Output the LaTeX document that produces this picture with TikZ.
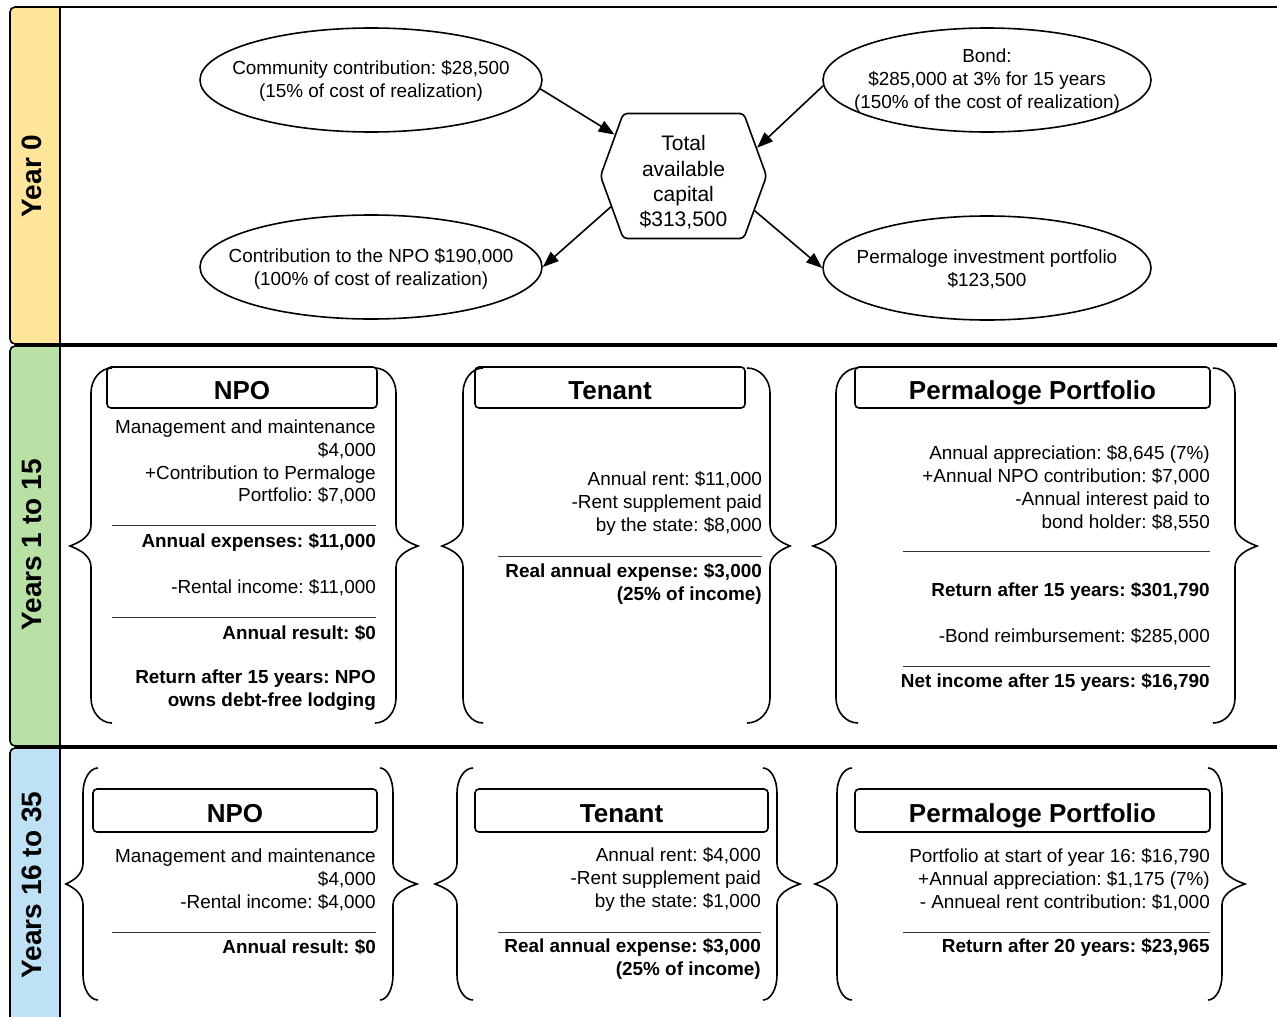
\documentclass[tikz,border=0pt]{standalone}
\usepackage{fontspec}
\setmainfont{Liberation Sans}
\usetikzlibrary{arrows.meta,shapes.geometric,shapes.symbols}
\definecolor{laneyellow}{HTML}{FFE599}
\definecolor{lanegreen}{HTML}{B9E0A5}
\definecolor{laneblue}{HTML}{BEE1F5}
\frenchspacing
\newcommand{\dgBody}{\fontsize{18.9}{22.9}\selectfont}
\newcommand{\dgHead}{\fontsize{26}{30}\selectfont\bfseries}
\newcommand{\dgLane}{\fontsize{28}{32}\selectfont\bfseries}
\newcommand{\dgHex}{\fontsize{21}{25.3}\selectfont}
% xe, xv, xt, ytop, ybot, ym
\newcommand{\dgBrace}[6]{%
  \draw[bracestyle] (#1,#4) .. controls ({#1+0.552*(#2-#1)},#4) and (#2,{#4+25-0.552*25}) .. (#2,{#4+25})
    -- (#2,{#6-21})
    .. controls (#2,{#6-10}) and ({#3+0.5*(#2-#3)},{#6-4}) .. (#3,#6)
    .. controls ({#3+0.5*(#2-#3)},{#6+4}) and (#2,{#6+10}) .. (#2,{#6+21})
    -- (#2,{#5-25})
    .. controls (#2,{#5-25+0.552*25}) and ({#1+0.552*(#2-#1)},#5) .. (#1,#5);}
\tikzset{
  lanebox/.style={draw=black, line width=1.6pt, rounded corners=5pt},
  bracestyle/.style={draw=black, line width=1.6pt},
  ell/.style={draw=black, line width=1.6pt, ellipse, inner sep=0pt, minimum width=342pt, minimum height=104pt},
  ellr/.style={ell, minimum width=328pt},
  etxt/.style={font=\dgBody, align=center, inner sep=0pt},
  txt/.style={font=\dgBody, align=right, anchor=east, inner sep=0pt, yshift=-2.5pt},
  btxt/.style={txt, font=\dgBody\bfseries},
  hdr/.style={draw=black, line width=1.6pt, rounded corners=4pt, font=\dgHead, inner sep=0pt, text height=23.6pt, text depth=0pt},
  sepline/.style={draw=black!80, line width=1pt},
  arr/.style={draw=black, line width=1.6pt, -{Triangle[length=16pt,width=12pt]}},
  lanelbl/.style={font=\dgLane, rotate=90, inner sep=0pt}
}
\begin{document}
\begin{tikzpicture}[x=1pt,y=-1pt]
\useasboundingbox (0,0) rectangle (1277,1017);
\clip (0,0) rectangle (1277,1017);
% lanes
\fill[laneyellow, rounded corners=5pt] (10,7) rectangle (60,344);
\fill[laneyellow] (35,7) rectangle (60,344);
\fill[lanegreen, rounded corners=5pt] (10,346) rectangle (60,746);
\fill[lanegreen] (35,346) rectangle (60,746);
\fill[laneblue, rounded corners=5pt] (10,748) rectangle (60,1040);
\fill[laneblue] (35,748) rectangle (60,1040);
\draw[lanebox] (10,7) rectangle (1300,344);
\draw[lanebox] (10,346) rectangle (1300,746);
\draw[lanebox] (10,748) rectangle (1300,1040);
\draw[line width=1.6pt] (60,7) -- (60,1040);
\node[lanelbl] (l0) at (32,176) {Year 0};
\node[lanelbl] (l1) at (32,545) {Years 1 to 15};
\node[lanelbl] (l2) at (32,885) {Years 16 to 35};

% Year 0
\node[ell] (e1) at (371,80) {};
\node[etxt] (e1t) at (371,81) {Community contribution: \$28,500\\(15\% of cost of realization)};
\node[ellr] (e2) at (987,80) {};
\node[etxt] (e2t) at (987,80.5) {Bond:\\\$285,000 at 3\% for 15 years\\(150\% of the cost of realization)};
\node[ell] (e3) at (371,267) {};
\node[etxt] (e3t) at (371,269) {Contribution to the NPO \$190,000\\(100\% of cost of realization)};
\node[ellr] (e4) at (987,268) {};
\node[etxt] (e4t) at (987,269) {Permaloge investment portfolio\\\$123,500};
\node[draw=black, line width=1.6pt, signal, signal to=west and east, signal pointer angle=140,
      minimum width=166pt, minimum height=125pt, inner sep=0pt, rounded corners=4pt] (hex) at (683.5,176) {};
\node[font=\dgHex, align=center, inner sep=0pt] (hext) at (683.5,182.5) {Total\\available\\capital\\\$313,500};
\draw[arr] (e1.-3) -- (hex.149);
\draw[arr] (e2.182) -- (hex.21);
\draw[arr] (hex.203) -- (e3.0);
\draw[arr] (hex.334) -- (e4.180);

% Years 1 to 15 : NPO
\dgBrace{112}{91}{70}{368}{723}{546}
\dgBrace{375}{396}{418}{368}{723}{546}
\node[hdr, minimum width=270pt, minimum height=41pt] (h1a) at (242,387.5) {NPO};
\node[txt] (n1a) at (376,459.5) {Management and maintenance\\\$4,000\\+Contribution to Permaloge\\Portfolio: \$7,000};
\draw[sepline] (112,525) -- (376,525);
\node[btxt] (n1b) at (376,540) {Annual expenses: \$11,000};
\node[txt] (n1c) at (376,585) {-Rental income: \$11,000};
\draw[sepline] (112,617) -- (376,617);
\node[btxt] (n1d) at (376,631) {Annual result: \$0};
\node[btxt] (n1e) at (376,687.5) {Return after 15 years: NPO\\owns debt-free lodging};

% Years 1 to 15 : Tenant
\dgBrace{483}{463}{442}{368}{723}{546}
\dgBrace{747}{770}{790}{368}{723}{546}
\node[hdr, minimum width=270pt, minimum height=41pt] (h1b) at (610,387.5) {Tenant};
\node[txt] (t1a) at (762,501) {Annual rent: \$11,000\\-Rent supplement paid\\by the state: \$8,000};
\draw[sepline] (498,556) -- (762,556);
\node[btxt] (t1b) at (762,581.5) {Real annual expense: \$3,000\\(25\% of income)};

% Years 1 to 15 : Portfolio
\dgBrace{858}{836}{813}{368}{723}{546}
\dgBrace{1213}{1235}{1257}{368}{723}{546}
\node[hdr, minimum width=355pt, minimum height=41pt] (h1c) at (1032.5,387.5) {Permaloge Portfolio};
\node[txt] (p1a) at (1210,485.5) {Annual appreciation: \$8,645 (7\%)\\+Annual NPO contribution: \$7,000\\-Annual interest paid to\\bond holder: \$8,550};
\draw[sepline] (903,551) -- (1210,551);
\node[btxt] (p1b) at (1210,589) {Return after 15 years: \$301,790};
\node[txt] (p1c) at (1210,634) {-Bond reimbursement: \$285,000};
\draw[sepline] (903,666) -- (1210,666);
\node[btxt] (p1d) at (1210,680) {Net income after 15 years: \$16,790};

% Years 16 to 35 : NPO
\dgBrace{98}{83}{66}{768}{1000}{884}
\dgBrace{380}{393}{417}{768}{1000}{884}
\node[hdr, minimum width=284pt, minimum height=43pt] (h2a) at (235,810.5) {NPO};
\node[txt] (n2a) at (376,877) {Management and maintenance\\\$4,000\\-Rental income: \$4,000};
\draw[sepline] (112,932) -- (376,932);
\node[btxt] (n2b) at (376,945) {Annual result: \$0};

% Years 16 to 35 : Tenant
\dgBrace{473}{457}{435}{768}{1000}{884}
\dgBrace{763}{777}{800}{768}{1000}{884}
\node[hdr, minimum width=293pt, minimum height=43pt] (h2b) at (621.5,810.5) {Tenant};
\node[txt] (t2a) at (761,877) {Annual rent: \$4,000\\-Rent supplement paid\\by the state: \$1,000};
\draw[sepline] (498,932) -- (761,932);
\node[btxt] (t2b) at (761,956.5) {Real annual expense: \$3,000\\(25\% of income)};

% Years 16 to 35 : Portfolio
\dgBrace{852}{837}{815}{768}{1000}{884}
\dgBrace{1208}{1222}{1245}{768}{1000}{884}
\node[hdr, minimum width=355pt, minimum height=43pt] (h2c) at (1032.5,810.5) {Permaloge Portfolio};
\node[txt] (p2a) at (1210,877) {Portfolio at start of year 16: \$16,790\\+Annual appreciation: \$1,175 (7\%)\\- Annueal rent contribution: \$1,000};
\draw[sepline] (903,932) -- (1210,932);
\node[btxt] (p2b) at (1210,945) {Return after 20 years: \$23,965};
\end{tikzpicture}
\end{document}
